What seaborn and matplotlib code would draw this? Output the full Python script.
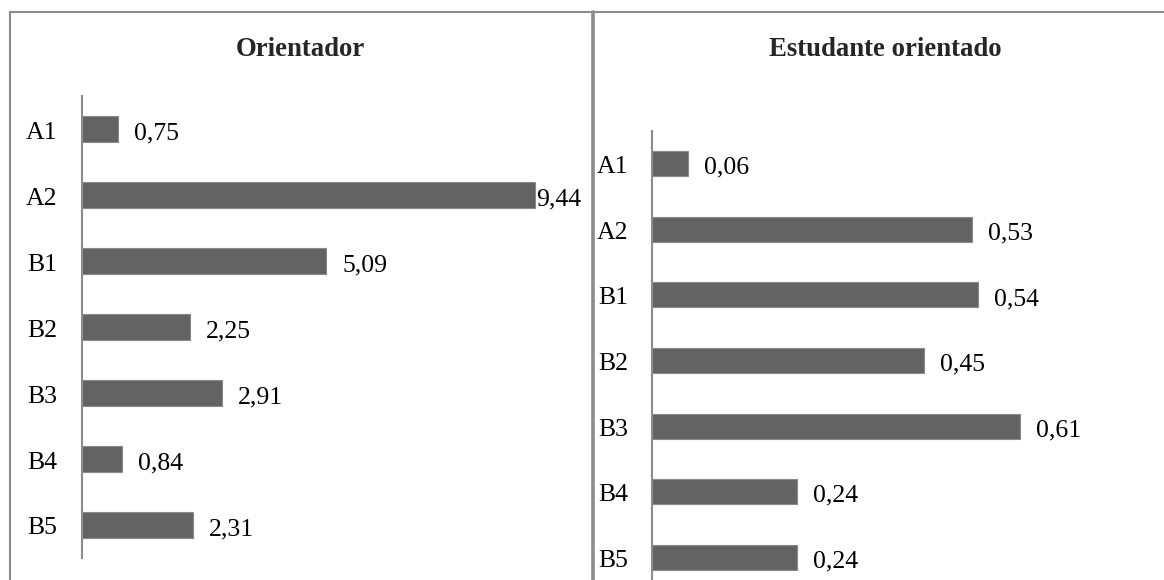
import matplotlib
matplotlib.use("Agg")
import matplotlib.pyplot as plt
from matplotlib.lines import Line2D
from matplotlib.transforms import ScaledTranslation
import seaborn as sns
import pandas as pd

# Data
categories = ["A1", "A2", "B1", "B2", "B3", "B4", "B5"]
orientador = [0.75, 9.44, 5.09, 2.25, 2.91, 0.84, 2.31]
estudante = [0.06, 0.53, 0.54, 0.45, 0.61, 0.24, 0.24]
titles = ["Orientador", "Estudante orientado"]

sns.set_style("white")
plt.rcParams["font.family"] = ["Liberation Serif", "DejaVu Serif"]

W, H = 1164, 580
fig = plt.figure(figsize=(W / 100, H / 100), dpi=100)

BAR = "#636363"
EDGE = "#8a8a8a"
LINE = "#8c8c8c"
FS = 18.5


def px_axes(left, top, right, bottom):
    return fig.add_axes([left / W, 1 - bottom / H, (right - left) / W, (bottom - top) / H])


def panel(ax, values, xmax, pad):
    df = pd.DataFrame({"cat": categories, "val": values})
    sns.barplot(data=df, x="val", y="cat", order=categories, orient="h",
                color=BAR, width=0.38, edgecolor=EDGE, linewidth=0.8,
                saturation=1, ax=ax)
    ax.set_xlim(0, xmax)
    ax.set_ylim(len(categories) - 0.5, -0.5)
    ax.set_xlabel("")
    ax.set_ylabel("")
    ax.set_xticks([])
    for s in ("top", "right", "bottom"):
        ax.spines[s].set_visible(False)
    ax.spines["left"].set_color(LINE)
    ax.spines["left"].set_linewidth(1.5)
    ax.tick_params(axis="y", length=0, pad=pad, labelsize=FS, labelcolor="black")
    shift = ScaledTranslation(0, -0.035, fig.dpi_scale_trans)
    for lbl in ax.get_yticklabels():
        lbl.set_verticalalignment("center")
        lbl.set_transform(lbl.get_transform() + shift)
    ax.patch.set_alpha(0)
    for i, v in enumerate(values):
        off = 1 if v / xmax > 0.88 else 11.5
        ax.annotate(f"{v:.2f}".replace(".", ","), xy=(v, i), xytext=(off, -3),
                    textcoords="offset points", ha="left", va="center",
                    fontsize=FS, color="black", annotation_clip=False)


ax1 = px_axes(82, 96, 582, 558)
panel(ax1, orientador, 500 / 48, 18)

ax2 = px_axes(652, 131, 1152, 590)
panel(ax2, estudante, 500 / 604, 17)

# Titles
fig.text(300.5 / W, 1 - 50 / H, titles[0], ha="center", va="center",
         fontsize=19.3, fontweight="bold")
fig.text(885 / W, 1 - 50 / H, titles[1], ha="center", va="center",
         fontsize=19.3, fontweight="bold")

# Table frame
def hline(x0, x1, y, lw):
    fig.add_artist(Line2D([x0 / W, x1 / W], [1 - y / H, 1 - y / H], color=LINE, lw=lw))


def vline(x, y0, y1, lw):
    fig.add_artist(Line2D([x / W, x / W], [1 - y0 / H, 1 - y1 / H], color=LINE, lw=lw))


hline(10, 1164, 12, 1.5)
vline(10, 12, 580, 1.5)
vline(592.5, 12, 580, 2.6)

fig.savefig("out.png", dpi=100)
